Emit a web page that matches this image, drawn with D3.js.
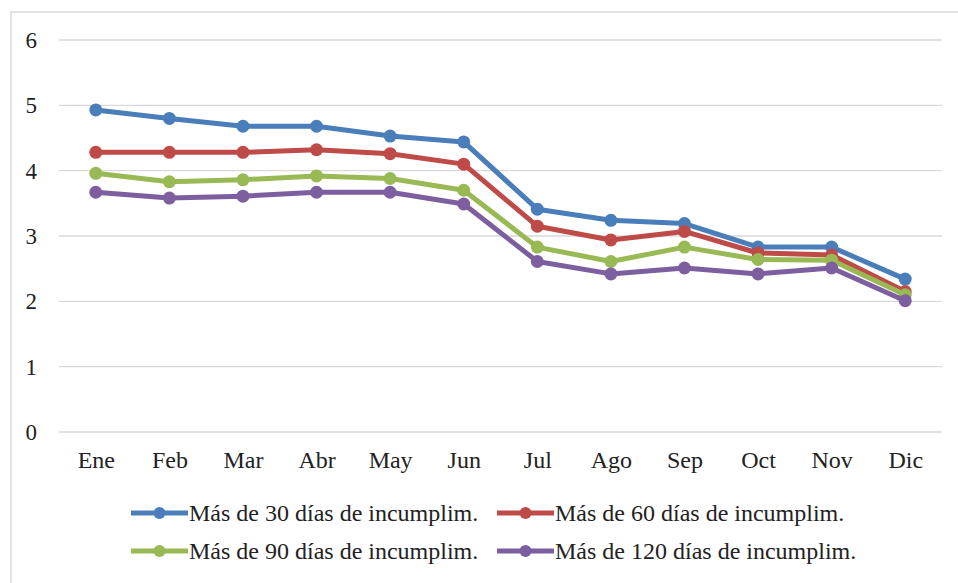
<!DOCTYPE html>
<html>
<head>
<meta charset="utf-8">
<script src="https://cdn.jsdelivr.net/npm/d3@7"></script>
<style>
  body { margin: 0; background: #fff; }
  text { font-family: "Liberation Serif", "Times New Roman", serif; fill: #222; }
</style>
</head>
<body>
<svg id="chart" width="958" height="583"></svg>
<script>
const months = ["Ene", "Feb", "Mar", "Abr", "May", "Jun", "Jul", "Ago", "Sep", "Oct", "Nov", "Dic"];
const yTicks = [0, 1, 2, 3, 4, 5, 6];

const mas30 = [4.93, 4.80, 4.68, 4.68, 4.53, 4.44, 3.41, 3.24, 3.19, 2.83, 2.83, 2.34];
const mas60 = [4.28, 4.28, 4.28, 4.32, 4.26, 4.10, 3.15, 2.94, 3.07, 2.74, 2.71, 2.15];
const mas90 = [3.96, 3.83, 3.86, 3.92, 3.88, 3.70, 2.83, 2.61, 2.83, 2.64, 2.63, 2.10];
const mas120 = [3.67, 3.58, 3.61, 3.67, 3.67, 3.49, 2.61, 2.42, 2.51, 2.42, 2.51, 2.01];

const seriesNames = [
  "Más de 30 días de incumplim.",
  "Más de 60 días de incumplim.",
  "Más de 90 días de incumplim.",
  "Más de 120 días de incumplim."
];
const colors = ["#4a7ebb", "#be4b48", "#98b954", "#7d5fa0"];

const series = [mas30, mas60, mas90, mas120].map((vals, i) => ({
  name: seriesNames[i],
  color: colors[i],
  values: vals.map((v, j) => ({ month: months[j], value: v }))
}));

const svg = d3.select("#chart");

// outer chart border (only top/left visible in the crop)
svg.append("rect")
  .attr("x", 11).attr("y", 12)
  .attr("width", 980).attr("height", 600)
  .attr("fill", "none")
  .attr("stroke", "#d9d9d9")
  .attr("stroke-width", 1.5);

const plotLeft = 59, plotRight = 942, plotTop = 40, plotBottom = 432;

const x = d3.scalePoint().domain(months).range([plotLeft, plotRight]).padding(0.5);
const y = d3.scaleLinear().domain([0, 6]).range([plotBottom, plotTop]);

// gridlines
svg.append("g")
  .selectAll("line")
  .data(yTicks)
  .join("line")
  .attr("x1", plotLeft).attr("x2", plotRight)
  .attr("y1", (d) => y(d)).attr("y2", (d) => y(d))
  .attr("stroke", "#d9d9d9")
  .attr("stroke-width", 1.3);

// y axis labels
const yAxis = svg.append("g")
  .attr("transform", `translate(${plotLeft},0)`)
  .call(d3.axisLeft(y).tickValues(yTicks).tickFormat(d3.format("d")).tickSize(0).tickPadding(22));
yAxis.select(".domain").remove();
yAxis.selectAll("text")
  .attr("font-size", 23)
  .attr("fill", "#222")
  .style("font-family", "'Liberation Serif', serif");

// x axis labels
const xAxis = svg.append("g")
  .attr("transform", `translate(0,${plotBottom})`)
  .call(d3.axisBottom(x).tickSize(0).tickPadding(19));
xAxis.select(".domain").remove();
xAxis.selectAll("text")
  .attr("font-size", 24)
  .attr("fill", "#222")
  .style("font-family", "'Liberation Serif', serif");

const line = d3.line()
  .x((d) => x(d.month))
  .y((d) => y(d.value));

const groups = svg.append("g")
  .selectAll("g")
  .data(series)
  .join("g");

groups.append("path")
  .attr("d", (d) => line(d.values))
  .attr("fill", "none")
  .attr("stroke", (d) => d.color)
  .attr("stroke-width", 5)
  .attr("stroke-linejoin", "round");

groups.selectAll("circle")
  .data((d) => d.values.map((v) => ({ ...v, color: d.color })))
  .join("circle")
  .attr("cx", (d) => x(d.month))
  .attr("cy", (d) => y(d.value))
  .attr("r", 6.5)
  .attr("fill", (d) => d.color);

// legend, two columns x two rows
const legendPos = [
  { x: 131, y: 513 },
  { x: 497, y: 513 },
  { x: 131, y: 551 },
  { x: 497, y: 551 }
];

const legend = svg.append("g")
  .selectAll("g")
  .data(series)
  .join("g")
  .attr("transform", (d, i) => `translate(${legendPos[i].x},${legendPos[i].y})`);

legend.append("line")
  .attr("x1", 0).attr("x2", 57)
  .attr("stroke", (d) => d.color)
  .attr("stroke-width", 5);

legend.append("circle")
  .attr("cx", 28.5)
  .attr("r", 6)
  .attr("fill", (d) => d.color);

legend.append("text")
  .attr("x", 58)
  .attr("dy", "0.33em")
  .attr("font-size", 24)
  .text((d) => d.name);
</script>
</body>
</html>
